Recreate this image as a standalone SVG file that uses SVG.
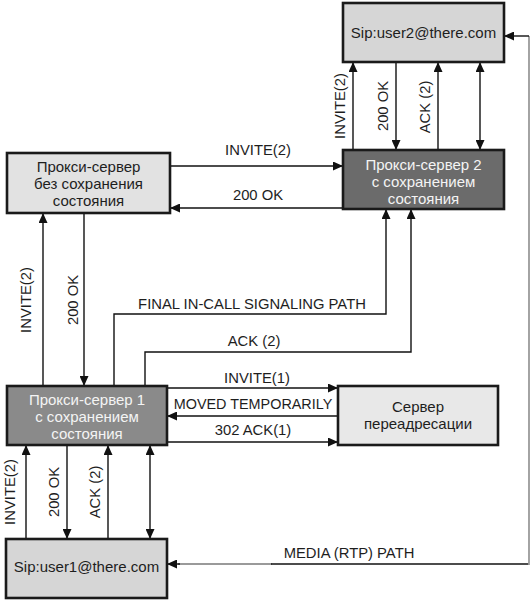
<svg xmlns="http://www.w3.org/2000/svg" width="532" height="601" viewBox="0 0 532 601">
<defs>
<marker id="ah" markerUnits="userSpaceOnUse" markerWidth="11" markerHeight="9" refX="10" refY="4.5" orient="auto-start-reverse" viewBox="0 0 11 9">
<path d="M0,0 L10,4.5 L0,9 z" fill="#111"/>
</marker>
<style>
.box{stroke:#1a1a1a;stroke-width:2.6}
.light{fill:#d6d6d6}
.pale{fill:#e2e2e2}
.paler{fill:#e8e8e8}
.dark2{fill:#6b6b6b}
.dark1{fill:#8a8a8a}
.nt{font-family:"Liberation Sans",Arial,sans-serif;font-size:15px;fill:#1e1e1e;text-anchor:middle}
.wt{font-family:"Liberation Sans",Arial,sans-serif;font-size:15px;fill:#f4f4f4;text-anchor:middle}
.lb{font-family:"Liberation Sans",Arial,sans-serif;font-size:14.8px;fill:#1e1e1e;text-anchor:middle}
.ln{fill:none;stroke:#111;stroke-width:1.4}
.gr{fill:none;stroke:#9a9a9a;stroke-width:1.8}
.a{marker-end:url(#ah)}
.aa{marker-start:url(#ah);marker-end:url(#ah)}
</style>
</defs>
<rect width="532" height="601" fill="#ffffff"/>

<g id="connectors">
<!-- user2 / proxy2 -->
<path class="ln a" d="M353,150 V62"/>
<path class="ln a" d="M396,62 V150"/>
<path class="ln a" d="M438,150 V62"/>
<path class="ln aa" d="M480,62 V150"/>
<text class="lb" transform="translate(339,106) rotate(-90)" y="5.5">INVITE(2)</text>
<text class="lb" transform="translate(382,106) rotate(-90)" y="5.5">200 OK</text>
<text class="lb" transform="translate(424,107) rotate(-90)" y="5.5">ACK (2)</text>
<!-- stateless / proxy2 -->
<path class="ln a" d="M170,166 H343"/>
<text class="lb" x="258" y="155">INVITE(2)</text>
<path class="ln a" d="M343,208 H170"/>
<text class="lb" x="258" y="200">200 OK</text>
<!-- proxy1 / stateless -->
<path class="ln a" d="M43,386 V213"/>
<path class="ln a" d="M84,213 V386"/>
<text class="lb" transform="translate(25,300) rotate(-90)" y="5.5">INVITE(2)</text>
<text class="lb" transform="translate(72,300) rotate(-90)" y="5.5">200 OK</text>
<!-- final path and ack -->
<path class="ln a" d="M114,386 V314 H386 V209"/>
<text class="lb" x="252" y="309">FINAL IN-CALL SIGNALING PATH</text>
<path class="ln a" d="M145,386 V352 H411 V209"/>
<text class="lb" x="254" y="346">ACK (2)</text>
<!-- proxy1 / redirect -->
<path class="ln a" d="M167,388 H338"/>
<text class="lb" x="257" y="383">INVITE(1)</text>
<path class="ln a" d="M338,416 H167"/>
<text class="lb" x="253" y="409" style="font-size:14.4px">MOVED TEMPORARILY</text>
<path class="ln a" d="M167,442 H338"/>
<text class="lb" x="253" y="435">302 ACK(1)</text>
<!-- proxy1 / user1 -->
<path class="ln a" d="M26,539 V445"/>
<path class="ln a" d="M67,445 V539"/>
<path class="ln a" d="M108,539 V445"/>
<path class="ln aa" d="M150,539 V445"/>
<text class="lb" transform="translate(9,492) rotate(-90)" y="5.5">INVITE(2)</text>
<text class="lb" transform="translate(53,492) rotate(-90)" y="5.5">200 OK</text>
<text class="lb" transform="translate(94,492) rotate(-90)" y="5.5">ACK (2)</text>
<!-- media path -->
<path class="gr" d="M272,564 H178"/>
<path class="ln a" d="M180,564 H167"/>
<path class="ln" d="M271,564 H529"/>
<path class="gr" d="M529,565 V36"/>
<path class="ln a" d="M529,36 H504"/>
<text class="lb" x="349" y="558">MEDIA (RTP) PATH</text>
</g>

<g id="user2">
<rect class="box light" x="343" y="3" width="161" height="59"/>
<text class="nt" x="423.5" y="38">Sip:user2@there.com</text>
</g>
<g id="proxy2">
<rect class="box dark2" x="343" y="150" width="161" height="59"/>
<text class="wt" x="423.5" y="170">Прокси-сервер 2</text>
<text class="wt" x="423.5" y="187">с сохранением</text>
<text class="wt" x="423.5" y="204">состояния</text>
</g>
<g id="stateless">
<rect class="box pale" x="7" y="153" width="163" height="60"/>
<text class="nt" x="88.5" y="172">Прокси-сервер</text>
<text class="nt" x="88.5" y="189">без сохранения</text>
<text class="nt" x="88.5" y="206">состояния</text>
</g>
<g id="proxy1">
<rect class="box dark1" x="7" y="386" width="160" height="59"/>
<text class="wt" x="87" y="405">Прокси-сервер 1</text>
<text class="wt" x="87" y="422">с сохранением</text>
<text class="wt" x="87" y="439">состояния</text>
</g>
<g id="redirect">
<rect class="box paler" x="338" y="386" width="160" height="59"/>
<text class="nt" x="418" y="412">Сервер</text>
<text class="nt" x="418" y="429">переадресации</text>
</g>
<g id="user1">
<rect class="box light" x="6" y="539" width="161" height="59"/>
<text class="nt" x="86.5" y="572">Sip:user1@there.com</text>
</g>
</svg>
